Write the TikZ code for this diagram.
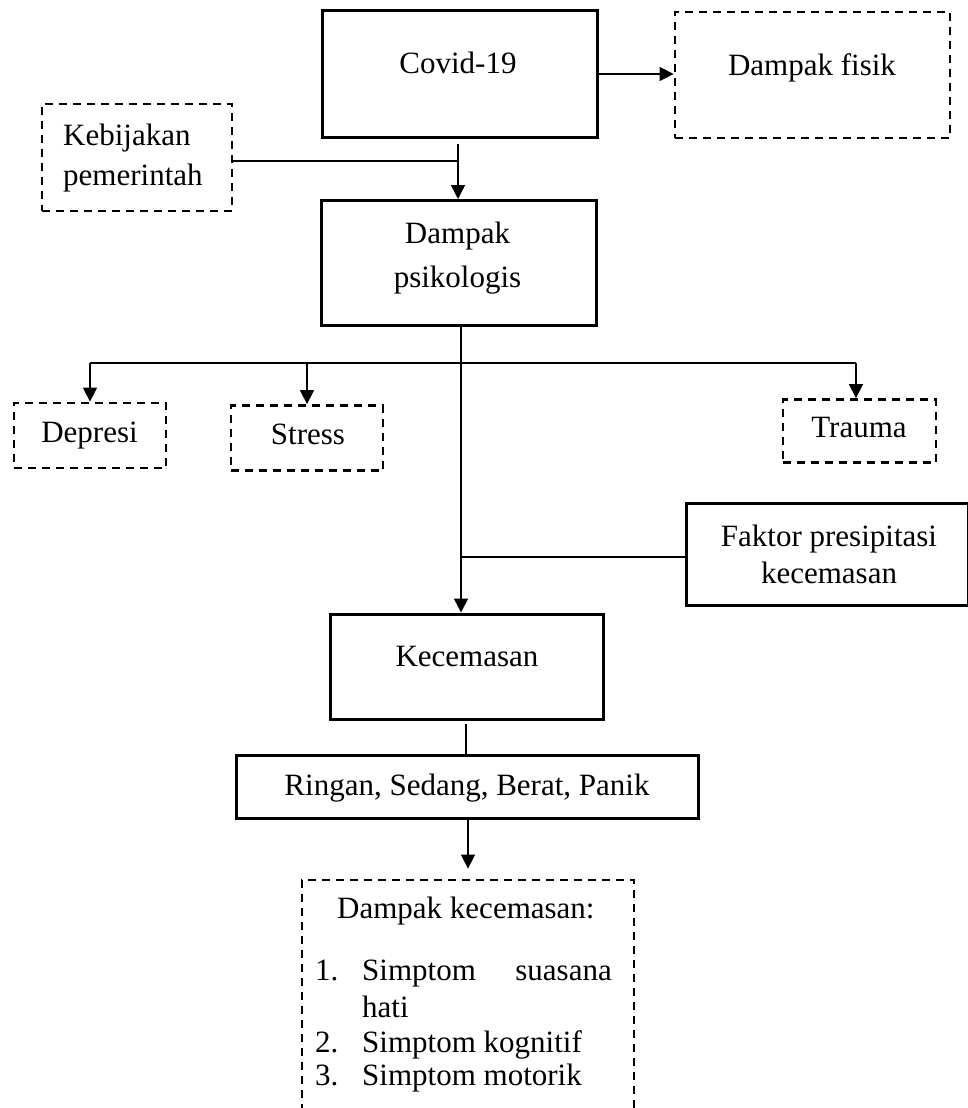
\documentclass[tikz,border=0pt]{standalone}
\usepackage{fontspec}
\setmainfont{Liberation Serif}
\usetikzlibrary{arrows.meta}
\tikzset{
  solidbox/.style={draw, line width=3pt, inner sep=0pt},
  dashbox/.style={draw, line width=2.8pt, dash pattern=on 8pt off 6pt, inner sep=0pt},
  txt/.style={font=\fontsize{31}{40}\selectfont, inner sep=0pt, anchor=base},
  conn/.style={line width=1.5pt},
  arr/.style={line width=1.5pt, -{Triangle[length=14pt,width=14pt]}}
}
\begin{document}
\begin{tikzpicture}[x=1pt,y=-1pt]
\useasboundingbox (0,0) rectangle (968,1108);
\clip (0,0) rectangle (968,1108);
% boxes
\node[solidbox, minimum width=275pt, minimum height=126pt] (covid) at (459.5,74) {};
\node[dashbox, minimum width=275pt, minimum height=126pt] (fisik) at (812.5,75) {};
\node[dashbox, minimum width=190pt, minimum height=107pt] (keb) at (137,157.5) {};
\node[solidbox, minimum width=275pt, minimum height=125pt] (psiko) at (458.5,263) {};
\node[dashbox, minimum width=152pt, minimum height=65pt] (dep) at (90,435.5) {};
\node[dashbox, minimum width=152pt, minimum height=65pt] (str) at (307,438) {};
\node[dashbox, minimum width=153pt, minimum height=63pt] (tra) at (859.5,431) {};
\node[solidbox, minimum width=282pt, minimum height=102pt] (fak) at (827,554) {};
\node[solidbox, minimum width=273pt, minimum height=105pt] (kec) at (466.5,666.5) {};
\node[solidbox, minimum width=462pt, minimum height=63pt] (rin) at (467,786.5) {};
\node[dashbox, minimum width=332pt, minimum height=260pt] (dk) at (468,1010) {};
% texts
\node[txt] (tcovid) at (458,74) {Covid-19};
\node[txt] (tfisik) at (812,75) {Dampak fisik};
\node[txt, anchor=base west] (tkeb1) at (63,145) {Kebijakan};
\node[txt, anchor=base west] (tkeb2) at (63,185) {pemerintah};
\node[txt] (tpsi1) at (457.5,243) {Dampak};
\node[txt] (tpsi2) at (457.5,287) {psikologis};
\node[txt] (tdep) at (89.5,442) {Depresi};
\node[txt] (tstr) at (308,444) {Stress};
\node[txt] (ttra) at (859,437) {Trauma};
\node[txt] (tfak1) at (829,546) {Faktor presipitasi};
\node[txt] (tfak2) at (829,583) {kecemasan};
\node[txt] (tkec) at (467,666) {Kecemasan};
\node[txt] (trin) at (467,795) {Ringan, Sedang, Berat, Panik};
\node[txt, anchor=base west] (tdk) at (337,918) {Dampak kecemasan:};
\node[txt, anchor=base west] (n1) at (315,980) {1.};
\node[txt, anchor=base west] (s1a) at (362,980) {Simptom};
\node[txt, anchor=base east] (s1b) at (612,980) {suasana};
\node[txt, anchor=base west] (s1c) at (362,1017) {hati};
\node[txt, anchor=base west] (n2) at (315,1052) {2.};
\node[txt, anchor=base west] (s2) at (362,1052) {Simptom kognitif};
\node[txt, anchor=base west] (n3) at (315,1085) {3.};
\node[txt, anchor=base west] (s3) at (362,1085) {Simptom motorik};
% connectors
\coordinate (c1) at (458,144);
\coordinate (j1) at (458,161);
\coordinate (m1) at (461,0);
\coordinate (b) at (461,363);
\coordinate (f1) at (462,557);
\coordinate (k1) at (466,724);
\coordinate (r1) at (468,819);
\coordinate (tb) at (856,363);
\draw[arr] (covid.east |- 0,74) -- (fisik.west |- 0,74);
\draw[arr] (c1) -- (c1 |- psiko.north);
\draw[conn] (keb.east |- j1) -- (j1);
\draw[arr] (m1 |- psiko.south) -- (m1 |- kec.north);
\draw[conn] (dep.north |- b) -- (tb);
\draw[arr] (dep.north |- b) -- (dep.north);
\draw[arr] (str.north |- b) -- (str.north);
\draw[arr] (tb) -- (tb |- tra.north);
\draw[conn] (fak.west |- f1) -- (f1);
\draw[conn] (k1) -- (k1 |- rin.north);
\draw[arr, shorten >=10pt] (r1) -- (r1 |- dk.north);
\end{tikzpicture}
\end{document}
